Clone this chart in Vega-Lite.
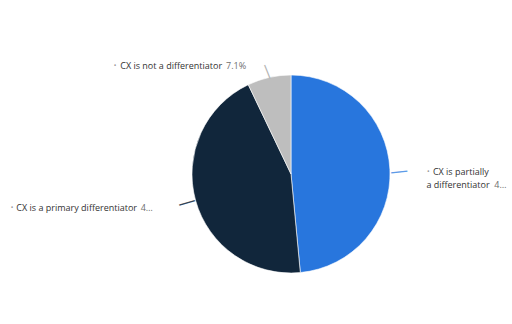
{
  "$schema": "https://vega.github.io/schema/vega-lite/v6.json",
  "width": 442,
  "height": 300,
  "autosize": "none",
  "padding": {"left": 70, "top": 24, "right": 0, "bottom": 0},
  "background": "#ffffff",
  "view": {"stroke": null},
  "config": {"text": {"font": "Open Sans", "fontSize": 9}},
  "data": {
    "values": [
      {"category": "CX is partially a differentiator", "share": 48.5, "rank": 1},
      {"category": "CX is a primary differentiator", "share": 44.4, "rank": 2},
      {"category": "CX is not a differentiator", "share": 7.1, "rank": 3}
    ]
  },
  "encoding": {
    "theta": {"field": "share", "type": "quantitative", "stack": true},
    "order": {"field": "rank", "type": "quantitative"},
    "detail": {"field": "category", "type": "nominal"}
  },
  "layer": [
    {
      "mark": {"type": "arc", "radius": 99, "stroke": "#ffffff", "strokeWidth": 0.6},
      "encoding": {
        "color": {
          "field": "category",
          "type": "nominal",
          "scale": {
            "domain": ["CX is partially a differentiator", "CX is a primary differentiator", "CX is not a differentiator"],
            "range": ["#2876dd", "#11263b", "#bebebe"]
          },
          "legend": null
        }
      }
    },
    {
      "mark": {"type": "text", "font": "DejaVu Sans", "fontSize": 18, "radius": 108, "align": "center", "baseline": "middle", "angle": 354, "dy": 3, "color": "#5d9be8"},
      "encoding": {"text": {"condition": {"test": "datum.category === 'CX is partially a differentiator'", "value": "—"}, "value": ""}}
    },
    {
      "mark": {"type": "text", "font": "DejaVu Sans", "fontSize": 18, "radius": 108, "align": "center", "baseline": "middle", "angle": 344, "color": "#33465a"},
      "encoding": {"text": {"condition": {"test": "datum.category === 'CX is a primary differentiator'", "value": "—"}, "value": ""}}
    },
    {
      "mark": {"type": "text", "font": "DejaVu Sans", "fontSize": 16, "radius": 105, "align": "center", "baseline": "middle", "angle": 68, "color": "#b4b4b4"},
      "encoding": {"text": {"condition": {"test": "datum.category === 'CX is not a differentiator'", "value": "—"}, "value": ""}}
    },
    {
      "mark": {"type": "text", "radius": 100, "align": "center", "baseline": "middle", "dx": 37.5, "dy": 2.7, "fontSize": 7, "color": "#9a9a9a"},
      "encoding": {"text": {"condition": {"test": "datum.category === 'CX is partially a differentiator'", "value": "•"}, "value": ""}}
    },
    {
      "mark": {"type": "text", "radius": 100, "align": "left", "baseline": "middle", "dx": 42, "dy": 2.7, "color": "#333333"},
      "encoding": {"text": {"condition": {"test": "datum.category === 'CX is partially a differentiator'", "value": "CX is partially"}, "value": ""}}
    },
    {
      "mark": {"type": "text", "radius": 100, "align": "left", "baseline": "middle", "dx": 35.5, "dy": 15.5, "color": "#333333"},
      "encoding": {"text": {"condition": {"test": "datum.category === 'CX is partially a differentiator'", "value": "a differentiator"}, "value": ""}}
    },
    {
      "mark": {"type": "text", "radius": 100, "align": "right", "baseline": "middle", "dx": 115.5, "dy": 15.5, "color": "#6e6e6e"},
      "encoding": {"text": {"condition": {"test": "datum.category === 'CX is partially a differentiator'", "value": "4…"}, "value": ""}}
    },
    {
      "mark": {"type": "text", "radius": 100, "align": "center", "baseline": "middle", "dx": -182.6, "dy": 7.3, "fontSize": 7, "color": "#9a9a9a"},
      "encoding": {"text": {"condition": {"test": "datum.category === 'CX is a primary differentiator'", "value": "•"}, "value": ""}}
    },
    {
      "mark": {"type": "text", "radius": 100, "align": "right", "baseline": "middle", "dx": -57.6, "dy": 7.3, "color": "#333333"},
      "encoding": {"text": {"condition": {"test": "datum.category === 'CX is a primary differentiator'", "value": "CX is a primary differentiator"}, "value": ""}}
    },
    {
      "mark": {"type": "text", "radius": 100, "align": "left", "baseline": "middle", "dx": -54, "dy": 7.3, "color": "#6e6e6e"},
      "encoding": {"text": {"condition": {"test": "datum.category === 'CX is a primary differentiator'", "value": "4…"}, "value": ""}}
    },
    {
      "mark": {"type": "text", "radius": 100, "align": "center", "baseline": "middle", "dx": -153.8, "dy": -10.5, "fontSize": 7, "color": "#9a9a9a"},
      "encoding": {"text": {"condition": {"test": "datum.category === 'CX is not a differentiator'", "value": "•"}, "value": ""}}
    },
    {
      "mark": {"type": "text", "radius": 100, "align": "right", "baseline": "middle", "dx": -46.8, "dy": -10.5, "color": "#333333"},
      "encoding": {"text": {"condition": {"test": "datum.category === 'CX is not a differentiator'", "value": "CX is not a differentiator"}, "value": ""}}
    },
    {
      "mark": {"type": "text", "radius": 100, "align": "left", "baseline": "middle", "dx": -42.8, "dy": -10.5, "color": "#6e6e6e"},
      "encoding": {"text": {"condition": {"test": "datum.category === 'CX is not a differentiator'", "value": "7.1%"}, "value": ""}}
    }
  ]
}
